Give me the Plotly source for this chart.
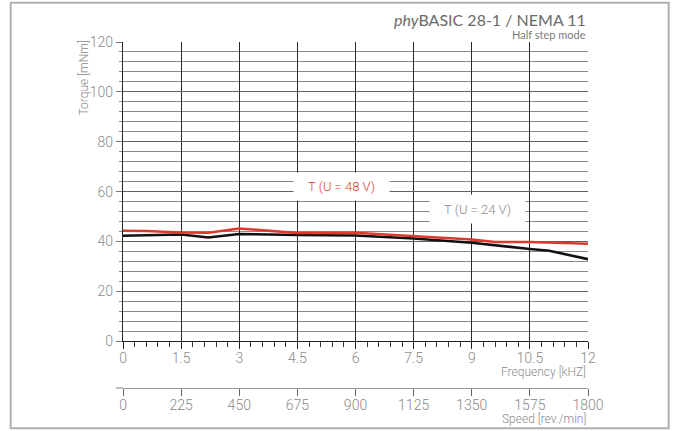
import plotly.graph_objects as go

# ---- data ----
freq_48 = [0, 0.6, 1.5, 2.2, 3.0, 4.5, 6.0, 7.5, 9.0, 9.6, 10.5, 12.0]
torque_48 = [44.3, 44.2, 43.6, 43.5, 45.2, 43.4, 43.5, 42.3, 40.8, 39.8, 39.8, 39.1]
freq_24 = [0, 1.5, 2.2, 3.0, 4.5, 6.0, 7.5, 9.0, 10.5, 11.0, 12.0]
torque_24 = [42.3, 42.8, 41.6, 43.0, 42.6, 42.4, 41.2, 39.5, 37.0, 36.3, 32.9]
freq_ticks = [0, 1.5, 3, 4.5, 6, 7.5, 9, 10.5, 12]
freq_tick_labels = ["0", "1.5", "3", "4.5", "6", "7.5", "9", "10.5", "12"]
speed_ticks = [0, 225, 450, 675, 900, 1125, 1350, 1575, 1800]
torque_ticks = [0, 20, 40, 60, 80, 100, 120]

RED = "#de3a2c"
GRAY_TXT = "#8a8a8a"
FONT = "Roboto"

W, H = 676, 431
L, R, T, B = 123.3, 676 - 588.3, 42.3, 431 - 387.7
pw = W - L - R
ph = H - T - B
y_dom0 = (387.7 - 341.0) / ph


def px(xp):
    return (xp - L) / pw


def py(yp):
    return (H - B - yp) / ph


fig = go.Figure()
fig.add_trace(go.Scatter(x=freq_24, y=torque_24, mode="lines",
                         line=dict(color="#111111", width=2.6), showlegend=False))
fig.add_trace(go.Scatter(x=freq_48, y=torque_48, mode="lines",
                         line=dict(color=RED, width=2.6), showlegend=False))
# invisible trace to activate the speed axis
fig.add_trace(go.Scatter(x=[speed_ticks[0], speed_ticks[-1]], y=[None, None],
                         xaxis="x2", mode="lines", showlegend=False, hoverinfo="skip"))

tickfont = dict(size=14, color=GRAY_TXT, family=FONT, weight=300)

fig.update_layout(
    width=W, height=H,
    margin=dict(l=L, r=R, t=T, b=B, pad=0),
    plot_bgcolor="white", paper_bgcolor="white",
    font=dict(family=FONT, color=GRAY_TXT),
    xaxis=dict(
        range=[0, 12], tickvals=freq_ticks, ticktext=freq_tick_labels,
        showgrid=True, gridcolor="#2a2a2a", gridwidth=1.4,
        showline=True, linecolor="#222", linewidth=1.3,
        ticks="outside", ticklen=7, tickcolor="#222", tickwidth=1.2,
        ticklabelstandoff=-3,
        minor=dict(dtick=0.3, ticks="outside", ticklen=5, tickcolor="#333", showgrid=False),
        zeroline=False, anchor="y",
        tickfont=tickfont,
    ),
    xaxis2=dict(
        range=[0, 1800], overlaying="x", anchor="free", position=0, side="bottom",
        tickvals=speed_ticks, showgrid=False, showline=True, linecolor="#999",
        linewidth=1.3, ticks="outside", ticklen=7, tickcolor="#666",
        ticklabelstandoff=-3,
        zeroline=False,
        tickfont=tickfont,
    ),
    yaxis=dict(
        range=[0, 120], domain=[y_dom0, 1], tickvals=torque_ticks,
        showgrid=True, gridcolor="#606060", gridwidth=1.2,
        showline=True, linecolor="#222", linewidth=1.3,
        ticks="outside", ticklen=6, tickcolor="#777",
        minor=dict(dtick=4, showgrid=True, gridcolor="#8a8a8a", gridwidth=1,
                   ticks="outside", ticklen=3, tickcolor="#8c8c8c"),
        zeroline=False,
        tickfont=tickfont,
    ),
)

shapes = []
# outer frame
shapes.append(dict(type="rect", xref="paper", yref="paper",
                   x0=px(11), x1=px(669), y0=py(428), y1=py(3),
                   line=dict(color="#b0b0b0", width=2), fillcolor="rgba(0,0,0,0)"))
# left extension of speed axis line
shapes.append(dict(type="line", xref="paper", yref="paper",
                   x0=px(116.5), x1=0, y0=0, y1=0,
                   line=dict(color="#999", width=1.3)))
fig.update_layout(shapes=shapes)

ann = []
# title
ann.append(dict(xref="paper", yref="paper", x=1, y=py(20), xanchor="right", yanchor="middle",
                text="<i>phy</i>BASIC 28-1 / NEMA 11", showarrow=False,
                font=dict(family="Lato", size=16, color="#6a6a6a")))
ann.append(dict(xref="paper", yref="paper", x=1, y=py(35), xanchor="right", yanchor="middle",
                text="Half step mode", showarrow=False,
                font=dict(family="Lato", size=11, color="#7a7a7a")))
# axis titles
ann.append(dict(xref="paper", yref="paper", x=px(84), y=py(78), xanchor="center", yanchor="middle",
                text="Torque [mNm]", textangle=-90, showarrow=False,
                font=dict(family=FONT, size=12, color=GRAY_TXT, weight=300)))
ann.append(dict(xref="paper", yref="paper", x=1, y=py(372), xanchor="right", yanchor="middle",
                text="Frequency [kHZ]", showarrow=False,
                font=dict(family=FONT, size=12, color=GRAY_TXT, weight=300)))
ann.append(dict(xref="paper", yref="paper", x=1, y=py(419), xanchor="right", yanchor="middle",
                text="Speed [rev./min]", showarrow=False,
                font=dict(family=FONT, size=12, color=GRAY_TXT, weight=300)))
# series labels
ann.append(dict(x=5.65, y=62.0, xref="x", yref="y", text="T (U = 48 V)", showarrow=False,
                bgcolor="white", width=93, height=25,
                font=dict(family=FONT, size=13, color=RED, weight=300)))
ann.append(dict(x=9.14, y=52.9, xref="x", yref="y", text="T (U = 24 V)", showarrow=False,
                bgcolor="white", width=93, height=26,
                font=dict(family=FONT, size=13, color=GRAY_TXT, weight=300)))
fig.update_layout(annotations=ann)

fig.write_html("out.html", config={"displayModeBar": False},
               post_script="document.body.style.margin='0';")
